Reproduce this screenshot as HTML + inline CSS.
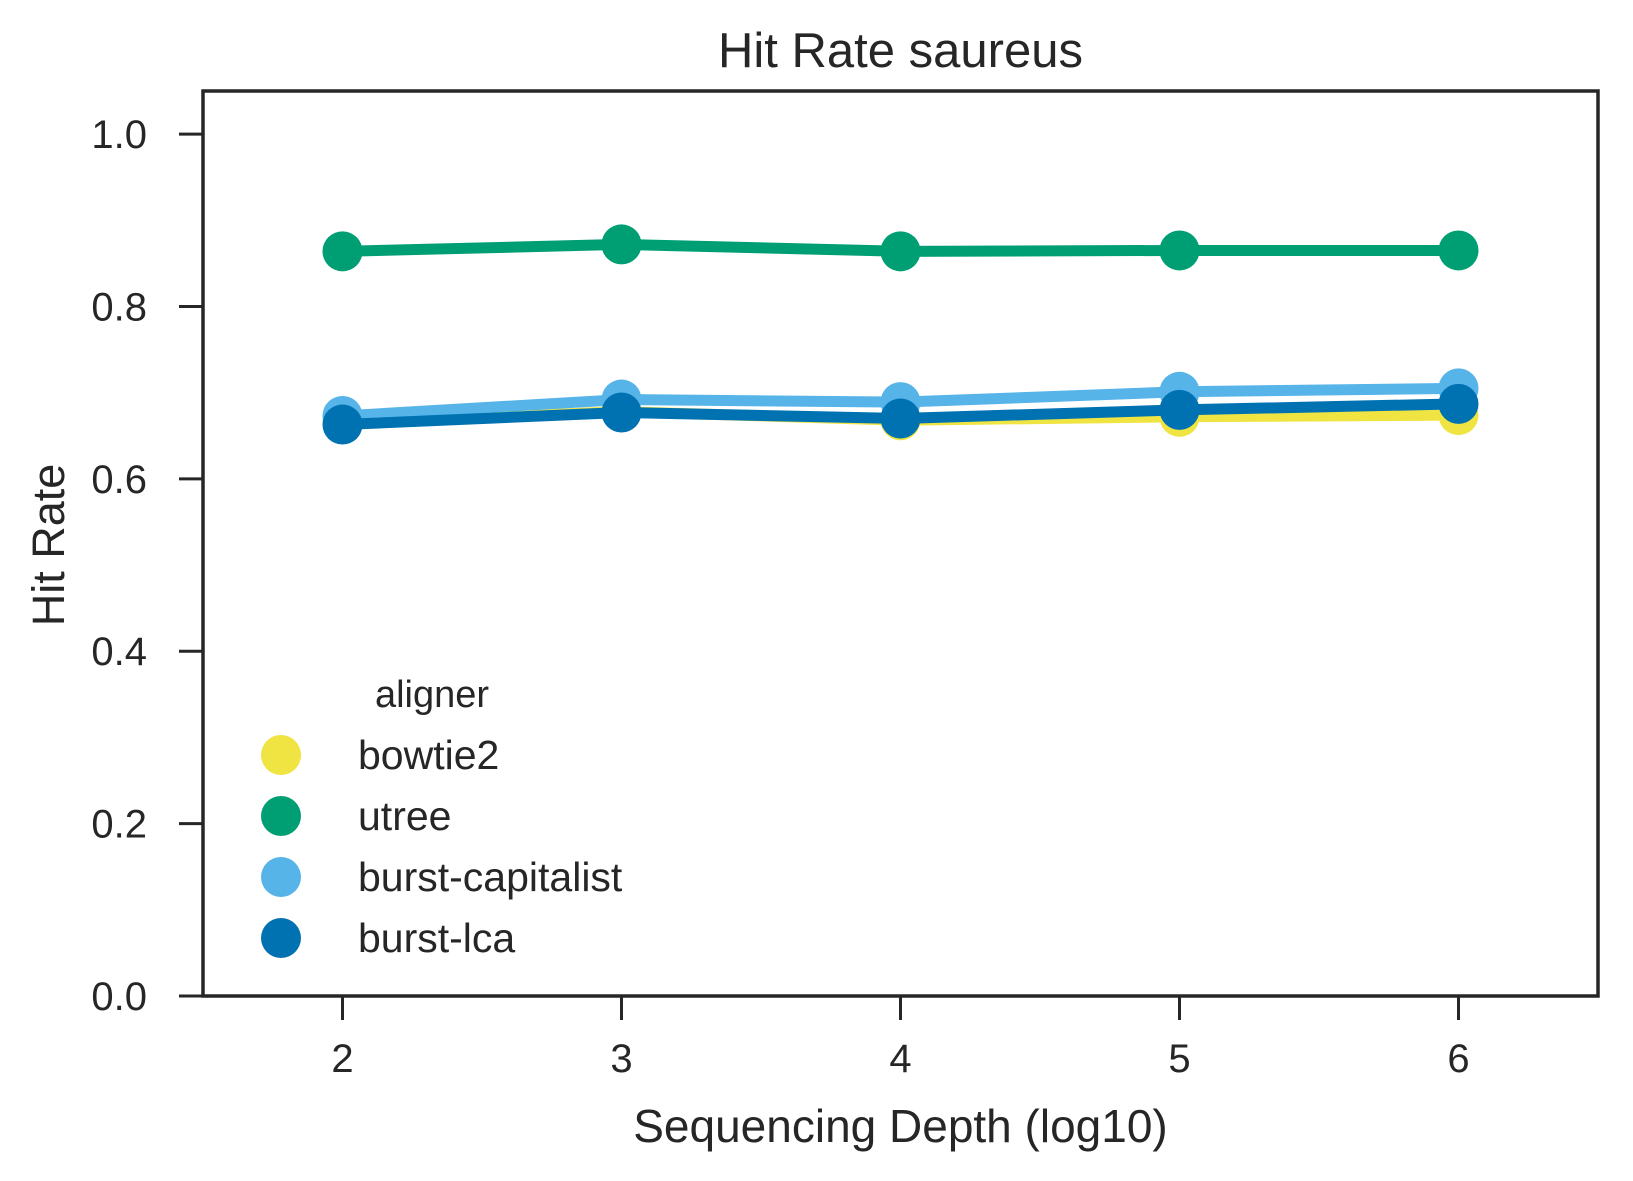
<!DOCTYPE html>
<html><head><meta charset="utf-8"><style>
body{margin:0;background:#fff;}
svg{display:block;font-family:"Liberation Sans",sans-serif;fill:#262626;}
</style></head><body>
<svg id="chart" width="1633" height="1181"></svg>
<script>
const depths=[2,3,4,5,6];
const seriesNames=["bowtie2","utree","burst-capitalist","burst-lca"];
const bowtie2=[0.665,0.678,0.668,0.672,0.674];
const utree=[0.864,0.872,0.864,0.865,0.865];
const burstCapitalist=[0.673,0.692,0.689,0.701,0.705];
const burstLca=[0.663,0.677,0.670,0.680,0.687];
const yTicks=["0.0","0.2","0.4","0.6","0.8","1.0"];
const xTicks=["2","3","4","5","6"];

const colors=["#f0e442","#009e73","#56b4e9","#0072b2"];
const L=203,R=1598,T=91,B=996;
const xs=v=>L+(v-1.5)/5*(R-L);
const ys=v=>B-v/1.05*(B-T);
const svg=document.getElementById('chart');
const NS="http://www.w3.org/2000/svg";
function mk(tag,attrs,parent){const e=document.createElementNS(NS,tag);for(const k in attrs)e.setAttribute(k,attrs[k]);(parent||svg).appendChild(e);return e;}

const title=mk('text',{x:(L+R)/2,y:67,'text-anchor':'middle','font-size':49});
title.textContent="Hit Rate saureus";



yTicks.forEach(t=>{
  const y=ys(parseFloat(t));
  const l=mk('line',{x1:179,x2:L,y1:y,y2:y,stroke:'#262626','stroke-width':3});
  
  
  const tx=mk('text',{x:147,y:y+14,'text-anchor':'end','font-size':40});
  tx.textContent=t;
  
  
});
xTicks.forEach(t=>{
  const x=xs(parseFloat(t));
  const l=mk('line',{x1:x,x2:x,y1:B,y2:B+24,stroke:'#262626','stroke-width':3});
  
  
  const tx=mk('text',{x:x,y:B+76,'text-anchor':'middle','font-size':40});
  tx.textContent=t;
  
  
});
const xl=mk('text',{x:(L+R)/2,y:1142,'text-anchor':'middle','font-size':46});
xl.textContent="Sequencing Depth (log10)";


const yl=mk('text',{x:0,y:0,'text-anchor':'middle','font-size':45,transform:'translate(64,545) rotate(-90)'});
yl.textContent="Hit Rate";



const allSeries=[bowtie2,utree,burstCapitalist,burstLca];
allSeries.forEach((s,i)=>{
  const g=mk('g',{});
  
  
  const pl=mk('polyline',{points:s.map((v,j)=>xs(depths[j])+','+ys(v)).join(' '),fill:'none',stroke:colors[i],'stroke-width':11,'stroke-linejoin':'round'},g);
  
  
  s.forEach((v,j)=>{
    const c=mk('circle',{cx:xs(depths[j]),cy:ys(v),r:20,fill:colors[i]},g);
    
    
  });
});

const frame=mk('rect',{x:L,y:T,width:R-L,height:B-T,fill:'none',stroke:'#262626','stroke-width':3.5});



const lg=mk('g',{});


const lt=mk('text',{x:432,y:707,'text-anchor':'middle','font-size':38},lg);
lt.textContent="aligner";


seriesNames.forEach((n,i)=>{
  const y=755+i*61;
  const c=mk('circle',{cx:281,cy:y,r:20,fill:colors[i]},lg);
  
  
  const t=mk('text',{x:358,y:y+14,'font-size':41},lg);
  t.textContent=n;
  
  
});
</script>
</body></html>
